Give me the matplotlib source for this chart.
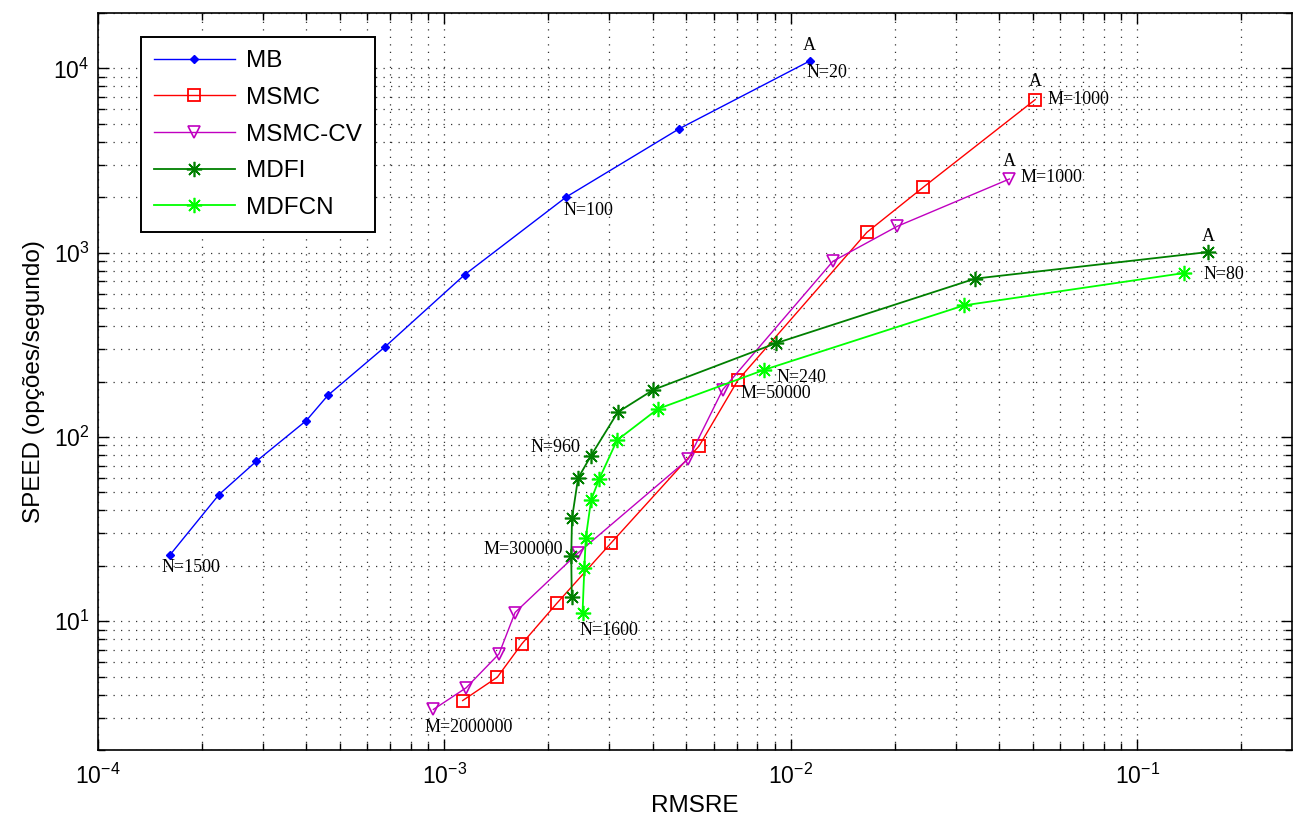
import matplotlib
matplotlib.use("Agg")
import matplotlib.pyplot as plt
from matplotlib.ticker import LogLocator, NullFormatter

plt.rcParams['font.family'] = ['Liberation Sans', 'DejaVu Sans']
plt.rcParams['mathtext.default'] = 'regular'

# dados (RMSRE x opções/segundo)
mb_x = [1.62e-4, 2.24e-4, 2.87e-4, 4.0e-4, 4.62e-4, 6.74e-4, 1.147e-3, 2.254e-3, 4.775e-3, 1.134e-2]
mb_y = [23.0, 48.7, 73.8, 122.7, 168.4, 307.8, 760.7, 2010, 4714, 10965]

msmc_x = [1.131e-3, 1.424e-3, 1.675e-3, 2.114e-3, 3.033e-3, 5.445e-3, 7.04e-3, 1.66e-2, 2.413e-2, 5.08e-2]
msmc_y = [3.71, 4.97, 7.53, 12.5, 26.6, 89.4, 203, 1290, 2264, 6772]

msmccv_x = [9.31e-4, 1.157e-3, 1.44e-3, 1.602e-3, 2.43e-3, 5.07e-3, 6.37e-3, 1.324e-2, 2.03e-2, 4.28e-2]
msmccv_y = [3.32, 4.35, 6.65, 11.15, 23.4, 76, 180.8, 898, 1390, 2512]

mdfi_x = [2.335e-3, 2.327e-3, 2.339e-3, 2.435e-3, 2.655e-3, 3.17e-3, 4.018e-3, 9.06e-3, 3.41e-2, 0.1601]
mdfi_y = [13.45, 22.7, 36.2, 59.7, 79.3, 136.2, 180.4, 322.4, 723.5, 1008]

mdfcn_x = [2.508e-3, 2.539e-3, 2.563e-3, 2.655e-3, 2.8e-3, 3.155e-3, 4.136e-3, 8.40e-3, 3.17e-2, 0.1368]
mdfcn_y = [11.05, 19.4, 28.3, 45.4, 58.96, 96, 141.9, 231.6, 518, 776]

fig = plt.figure(figsize=(12.93, 8.24), dpi=100)
ax = fig.add_axes([97.7/1293, 1-750/824, (1292-97.7)/1293, (750-13)/824])

ax.loglog(mb_x, mb_y, '-', color='#0000ff', lw=1, marker='D', ms=4.5, label='MB')
ax.loglog(msmc_x, msmc_y, '-', color='#ff0000', lw=1, marker='s', ms=9, mfc='none', mew=1.3, label='MSMC')
ax.loglog(msmccv_x, msmccv_y, '-', color='#c000c0', lw=1, marker='v', ms=8, mfc='none', mew=1.2, label='MSMC-CV')
ax.loglog(mdfi_x, mdfi_y, '-', color='#008000', lw=1.3, marker=(8, 2, 0), ms=11, mew=1.2, label='MDFI')
ax.loglog(mdfcn_x, mdfcn_y, '-', color='#00ff00', lw=1.3, marker=(8, 2, 0), ms=11, mew=1.2, label='MDFCN')

ax.set_xlim(1e-4, 0.28)
ax.set_ylim(2, 2e4)

ax.xaxis.set_major_locator(LogLocator(base=10, numticks=10))
ax.xaxis.set_minor_locator(LogLocator(base=10, subs=range(2, 10), numticks=20))
ax.yaxis.set_major_locator(LogLocator(base=10, numticks=10))
ax.yaxis.set_minor_locator(LogLocator(base=10, subs=range(2, 10), numticks=20))
ax.xaxis.set_minor_formatter(NullFormatter())
ax.yaxis.set_minor_formatter(NullFormatter())

ax.tick_params(which='both', direction='in', top=True, right=True, labelsize=16.5, width=1)
ax.tick_params(which='major', length=8)
ax.tick_params(which='minor', length=5)
ax.tick_params(axis='x', pad=10)
ax.tick_params(axis='y', pad=6)

ax.grid(True, which='both', color='k', linestyle=(0, (1, 5)), linewidth=0.9, alpha=0.8)
for s in ax.spines.values():
    s.set_linewidth(1.2)

ax.set_xlabel('RMSRE', fontsize=17.5, labelpad=4)
ax.set_ylabel('SPEED (opções/segundo)', fontsize=17.5, labelpad=6)

leg = ax.legend(loc='upper left', bbox_to_anchor=(141/1293, 1-37/824), bbox_transform=fig.transFigure,
                borderaxespad=0, fontsize=17.5, fancybox=False, edgecolor='k', framealpha=1,
                handlelength=3.3, handletextpad=0.45, labelspacing=0.6, borderpad=0.55)
leg.get_frame().set_linewidth(1.4)

# rótulos dos pontos
txt = dict(textcoords='offset points', fontsize=13, family='Liberation Serif', va='center')
ax.annotate('A', (mb_x[-1], mb_y[-1]), xytext=(0, 11), ha='center', **txt)
ax.annotate('N=20', (mb_x[-1], mb_y[-1]), xytext=(-2, -8), ha='left', **txt)
ax.annotate('N=100', (mb_x[7], mb_y[7]), xytext=(-2, -10), ha='left', **txt)
ax.annotate('N=1500', (mb_x[0], mb_y[0]), xytext=(-6.5, -9.5), ha='left', **txt)
ax.annotate('A', (msmc_x[-1], msmc_y[-1]), xytext=(0, 13), ha='center', **txt)
ax.annotate('M=1000', (msmc_x[-1], msmc_y[-1]), xytext=(8.6, 0), ha='left', **txt)
ax.annotate('M=50000', (msmc_x[6], msmc_y[6]), xytext=(2.2, -9.6), ha='left', **txt)
ax.annotate('A', (msmccv_x[-1], msmccv_y[-1]), xytext=(0, 12.7), ha='center', **txt)
ax.annotate('M=1000', (msmccv_x[-1], msmccv_y[-1]), xytext=(7.7, 1), ha='left', **txt)
ax.annotate('M=300000', (msmccv_x[4], msmccv_y[4]), xytext=(-10.6, 2.9), ha='right', **txt)
ax.annotate('M=2000000', (msmccv_x[0], msmccv_y[0]), xytext=(-6.5, -13.2), ha='left', **txt)
ax.annotate('A', (mdfi_x[-1], mdfi_y[-1]), xytext=(0, 11.3), ha='center', **txt)
ax.annotate('N=960', (mdfi_x[4], mdfi_y[4]), xytext=(-8, 5.5), ha='right', **txt)
ax.annotate('N=80', (mdfcn_x[-1], mdfcn_y[-1]), xytext=(13.7, -1), ha='left', **txt)
ax.annotate('N=240', (mdfcn_x[7], mdfcn_y[7]), xytext=(8.9, -5.9), ha='left', **txt)
ax.annotate('N=1600', (mdfcn_x[0], mdfcn_y[0]), xytext=(-1.8, -12.2), ha='left', **txt)

fig.savefig('out.png', dpi=100)
